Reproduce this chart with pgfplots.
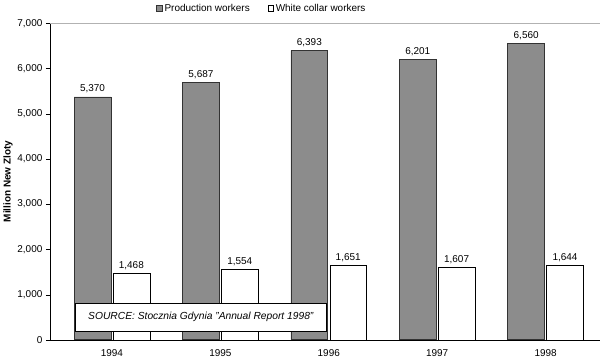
\documentclass[border=0pt]{standalone}
\usepackage{pgfplots}
\pgfplotsset{compat=1.18}
\usepackage{fontspec}
\setmainfont{Liberation Sans}
\begin{document}
\begin{tikzpicture}
\begin{axis}[
  scale only axis,
  width=552pt, height=318pt,
  xmin=-0.57, xmax=4.5,
  ymin=0, ymax=7000,
  ybar, bar width=0.34, bar shift auto,
  xtick={0,1,2,3,4},
  xticklabels={1994,1995,1996,1997,1998},
  x tick style={draw=none},
  xticklabel style={yshift=-2pt},
  ytick={0,1000,...,7000},
  y tick style={black},
  tick align=outside,
  tick pos=left,
  /pgf/number format/.cd, 1000 sep={,}, assume math mode=true,
  /pgfplots/.cd,
  ticklabel style={font=\fontsize{10}{12}\selectfont},
  axis line style={gray!60},
  separate axis lines,
  x axis line style={black},
  y axis line style={black},
  ylabel={\bfseries Million New Zloty},
  ylabel style={font=\fontsize{10}{12}\selectfont, yshift=-2pt},
  nodes near coords,
  nodes near coords style={font=\fontsize{10}{12}\selectfont, /pgf/number format/.cd, 1000 sep={,}, assume math mode=true},
  legend style={draw=none, at={(0.385,1.02)}, anchor=south, legend columns=2, font=\fontsize{10}{12}\selectfont,
    /tikz/every even column/.append style={column sep=16pt}},
  legend image code/.code={\draw[#1] (0cm,-0.1cm) rectangle (0.2cm,0.1cm);},
  clip=false,
]
\addplot[fill=black!45, draw=black!80, thick] coordinates {(0,5370) (1,5687) (2,6393) (3,6201) (4,6560)};
\addplot[fill=white, draw=black] coordinates {(0,1468) (1,1554) (2,1651) (3,1607) (4,1644)};
\legend{Production workers, White collar workers}
\draw[black, fill=white] (axis cs:-0.34,200) rectangle (axis cs:1.98,800);
\node[font=\itshape\fontsize{10.3}{12}\selectfont] at (axis cs:0.82,500) {SOURCE: Stocznia Gdynia "Annual Report 1998"};
\draw[gray!60] (rel axis cs:0,1) -- (rel axis cs:1,1) -- (rel axis cs:1,0);
\end{axis}
\end{tikzpicture}
\end{document}
